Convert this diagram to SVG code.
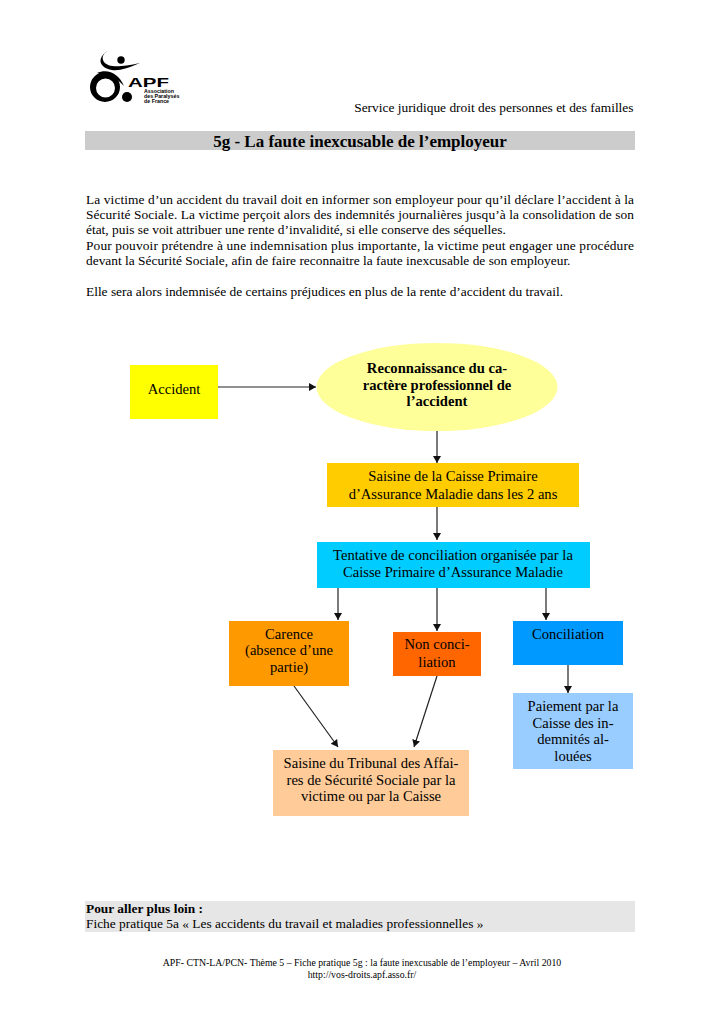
<svg xmlns="http://www.w3.org/2000/svg" width="724" height="1024" viewBox="0 0 724 1024">
<style>
text{font-family:"Liberation Serif","Times New Roman",serif;fill:#000}
.b{font-size:13.4px}
.n{font-size:14.6px;text-anchor:middle}
.h{font-weight:bold}
.f{font-size:9.8px;text-anchor:middle}
.c{stroke:#222;stroke-width:1.2;fill:none;marker-end:url(#a)}
.k{font-family:"Liberation Sans",Arial,sans-serif;font-weight:bold}
</style>
<defs><marker id="a" markerUnits="userSpaceOnUse" markerWidth="8" markerHeight="10" refX="7" refY="4" orient="auto"><path d="M0 0L7 4L0 8Z" fill="#111"/></marker></defs>
<rect width="724" height="1024" fill="#fff"/>
<g id="logo">
<path d="M111 49C103 53 101 57 104 62C108 67 118 68 140 63C128 68 120 71 112 70C99 68 95 57 111 49Z" fill="#000"/>
<circle cx="121" cy="60" r="3.700" fill="#000"/>
<path fill-rule="evenodd" d="M90 87A15 15 0 1 1 120 87A15 15 0 1 1 90 87ZM96 88A9.500 9.500 0 1 0 115 88A9.500 9.500 0 1 0 96 88Z" fill="#000"/>
<path d="M97 73C108 68 119 74 124 86C116 77 108 74 97 73Z" fill="#000"/>
<circle cx="127" cy="97" r="5" fill="#000"/>
<text class="k" x="128" y="87" font-size="12" textLength="41" lengthAdjust="spacingAndGlyphs">APF</text>
<text class="k" x="144" y="93" font-size="5.300">Association</text>
<text class="k" x="144" y="98" font-size="5.300">des Paralysés</text>
<text class="k" x="144" y="103" font-size="5.300">de France</text>
</g>
<g id="header">
<text class="b" x="633.500" y="112" text-anchor="end">Service juridique droit des personnes et des familles</text>
<rect x="85" y="131" width="550" height="19" fill="#ccc"/>
<text x="360" y="147" text-anchor="middle" font-size="17" class="h">5g - La faute inexcusable de l’employeur</text>
</g>
<g id="body">
<text class="b" x="86" y="204" textLength="548">La victime d’un accident du travail doit en informer son employeur pour qu’il déclare l’accident à la</text>
<text class="b" x="86" y="219" textLength="548">Sécurité Sociale. La victime perçoit alors des indemnités journalières jusqu’à la consolidation de son</text>
<text class="b" x="86" y="234">état, puis se voit attribuer une rente d’invalidité, si elle conserve des séquelles.</text>
<text class="b" x="86" y="250" textLength="548">Pour pouvoir prétendre à une indemnisation plus importante, la victime peut engager une procédure</text>
<text class="b" x="86" y="265">devant la Sécurité Sociale, afin de faire reconnaitre la faute inexcusable de son employeur.</text>
<text class="b" x="86" y="296">Elle sera alors indemnisée de certains préjudices en plus de la rente d’accident du travail.</text>
</g>
<g id="connectors">
<path class="c" d="M217 387H316"/>
<path class="c" d="M437 431V463"/>
<path class="c" d="M437 507V540"/>
<path class="c" d="M338 588V620"/>
<path class="c" d="M437 588V631"/>
<path class="c" d="M546 588V620"/>
<path class="c" d="M568 665V693"/>
<path class="c" d="M294 686L338 747"/>
<path class="c" d="M437 676L414 747"/>
</g>
<g id="accident"><rect x="130" y="365" width="88" height="54" fill="#ff0"/><text class="n" x="174" y="394">Accident</text></g>
<g id="reconnaissance"><ellipse cx="437" cy="387" rx="120.500" ry="44" fill="#ff9"/>
<text class="n h" x="437" y="373">Reconnaissance du ca-</text><text class="n h" x="437" y="390">ractère professionnel de</text><text class="n h" x="437" y="406">l’accident</text></g>
<g id="saisine-cpam"><rect x="327" y="463" width="252" height="44" fill="#fc0"/>
<text class="n" x="453" y="481">Saisine de la Caisse Primaire</text><text class="n" x="453" y="499">d’Assurance Maladie dans les 2 ans</text></g>
<g id="tentative"><rect x="317" y="542" width="273" height="46" fill="#0cf"/>
<text class="n" x="453" y="560">Tentative de conciliation organisée par la</text><text class="n" x="453" y="577">Caisse Primaire d’Assurance Maladie</text></g>
<g id="carence"><rect x="229" y="621" width="120" height="65" fill="#f90"/>
<text class="n" x="289" y="639">Carence</text><text class="n" x="289" y="655">(absence d’une</text><text class="n" x="289" y="672">partie)</text></g>
<g id="non-conciliation"><rect x="393" y="632" width="88" height="44" fill="#f60"/>
<text class="n" x="437" y="649">Non conci-</text><text class="n" x="437" y="667">liation</text></g>
<g id="conciliation"><rect x="513" y="621" width="110" height="44" fill="#09f"/>
<text class="n" x="568" y="639">Conciliation</text></g>
<g id="paiement"><rect x="513" y="693" width="120" height="76" fill="#9cf"/>
<text class="n" x="573" y="711">Paiement par la</text><text class="n" x="573" y="728">Caisse des in-</text><text class="n" x="573" y="744">demnités al-</text><text class="n" x="573" y="761">louées</text></g>
<g id="tribunal"><rect x="273" y="750" width="196" height="66" fill="#fc9"/>
<text class="n" x="371" y="768">Saisine du Tribunal des Affai-</text><text class="n" x="371" y="785">res de Sécurité Sociale par la</text><text class="n" x="371" y="801">victime ou par la Caisse</text></g>
<g id="footer">
<rect x="85" y="901" width="550" height="31" fill="#e6e6e6"/>
<text class="b h" x="86" y="913">Pour aller plus loin :</text>
<text class="b" x="86" y="928">Fiche pratique 5a « Les accidents du travail et maladies professionnelles »</text>
<text class="f" x="362" y="966">APF- CTN-LA/PCN- Thème 5 – Fiche pratique 5g : la faute inexcusable de l’employeur – Avril 2010</text>
<text class="f" x="362" y="978">http://vos-droits.apf.asso.fr/</text>
</g>
</svg>
